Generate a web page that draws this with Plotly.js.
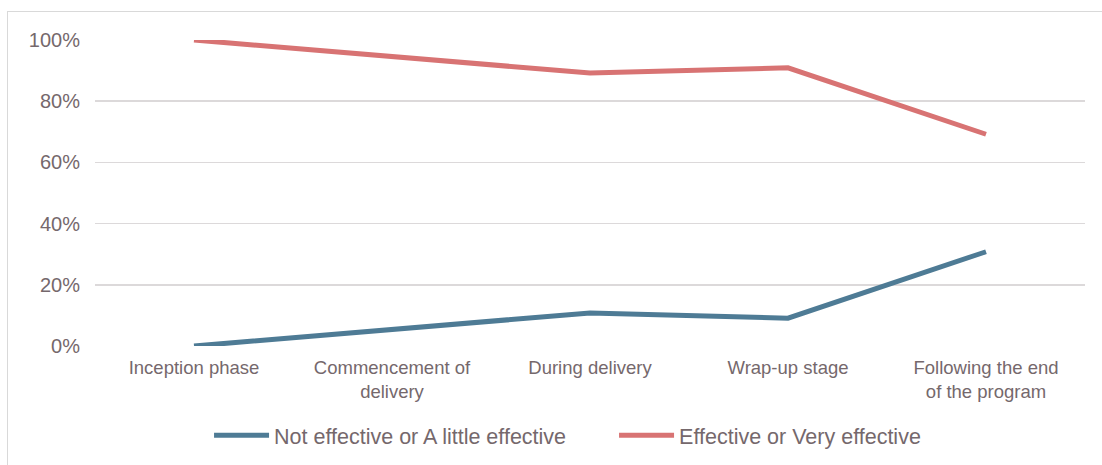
<!DOCTYPE html>
<html>
<head>
<meta charset="utf-8">
<script src="https://cdn.plot.ly/plotly-3.0.1.min.js"></script>
<style>
html,body{margin:0;padding:0;background:#fff;}
#wrap{position:relative;width:1102px;height:465px;overflow:hidden;}
#chart{position:absolute;left:0;top:0;width:1102px;height:465px;}
#frame{position:absolute;left:7px;top:11px;width:1200px;height:600px;border-left:1px solid #d9d9d9;border-top:1px solid #d9d9d9;pointer-events:none;}
</style>
</head>
<body>
<div id="wrap"><div id="chart"></div><div id="frame"></div></div>
<script>
const categories = ["Inception phase", "Commencement of<br>delivery", "During delivery", "Wrap-up stage", "Following the end<br>of the program"];
const notEffective = [0, 5.5, 10.8, 9.1, 30.8];
const effective = [100, 94.5, 89.2, 90.9, 69.2];
const seriesNames = ["Not effective or A little effective", "Effective or Very effective"];
const yTicks = [0, 20, 40, 60, 80, 100];
const yTickText = ["0%", "20%", "40%", "60%", "80%", "100%"];

const textColor = "#75686c";
const traces = [
  {x: categories, y: notEffective, name: seriesNames[0], type: "scatter", mode: "lines",
   line: {color: "#4e7b95", width: 5}},
  {x: categories, y: effective, name: seriesNames[1], type: "scatter", mode: "lines",
   line: {color: "#d87373", width: 5}}
];
const layout = {
  width: 1102, height: 465,
  margin: {l: 95, r: 17, t: 40, b: 119, autoexpand: false},
  paper_bgcolor: "rgba(0,0,0,0)", plot_bgcolor: "rgba(0,0,0,0)",
  font: {family: "Liberation Sans, Arial, sans-serif", size: 18, color: textColor},
  showlegend: true,
  legend: {orientation: "h", x: 0.1152, xanchor: "left", y: -0.225, yanchor: "top",
           font: {size: 21.5, color: textColor}, itemwidth: 55, entrywidth: 335, entrywidthmode: "pixels",
           traceorder: "normal"},
  xaxis: {type: "category", range: [-0.5, 4.5], showgrid: false, zeroline: false, showline: false,
          ticks: "", ticklabelstandoff: 8, tickfont: {size: 18.5, color: textColor}, fixedrange: true, automargin: false},
  yaxis: {range: [0, 100], tickvals: yTicks, ticktext: yTickText, showgrid: true,
          gridcolor: "#dcd9da", gridwidth: 1.5, zeroline: false, showline: false,
          ticks: "", ticklabelstandoff: 14, tickfont: {size: 20, color: textColor}, fixedrange: true, automargin: false}
};
Plotly.newPlot("chart", traces, layout, {displayModeBar: false, staticPlot: true});
</script>
</body>
</html>
